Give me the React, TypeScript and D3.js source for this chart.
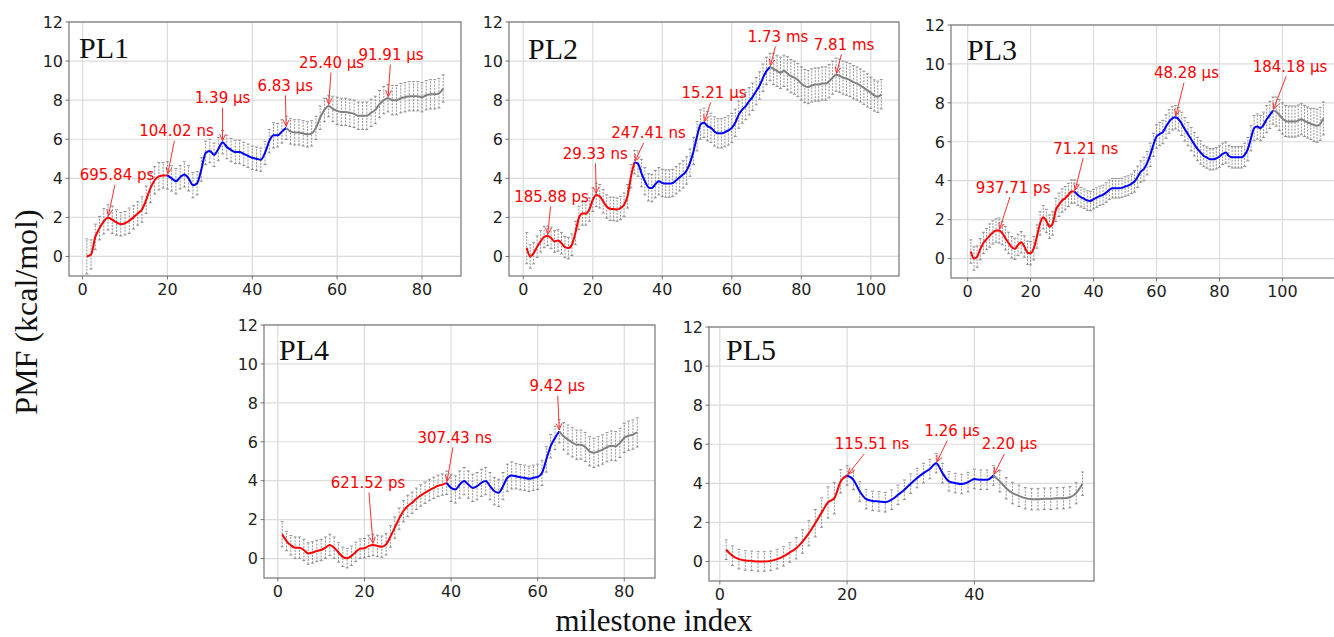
import React from 'react';
import * as d3 from 'd3';

// ---------------- DATA ----------------
const PL1_PMF = [0.0,0.1,1.0,1.45,1.8,2.0,1.88,1.74,1.65,1.7,1.83,2.0,2.2,2.4,2.9,3.5,3.9,4.1,4.15,4.15,
  4.0,3.85,4.05,4.2,4.0,3.65,3.75,4.45,5.3,5.4,5.2,5.5,5.85,5.6,5.45,5.35,5.35,5.25,5.15,5.05,
  5.0,4.95,5.3,5.9,6.2,6.2,6.4,6.58,6.4,6.35,6.35,6.3,6.25,6.3,6.58,7.1,7.5,7.7,7.55,7.45,
  7.4,7.4,7.35,7.3,7.2,7.2,7.2,7.35,7.5,7.8,8.0,8.1,8.0,8.0,8.1,8.15,8.2,8.2,8.2,8.15,
  8.25,8.3,8.3,8.35,8.6];
const PL1_ERR = [0.9,0.75,0.65,0.6,0.65,0.65,0.7,0.65,0.6,0.6,0.65,0.6,0.6,0.65,0.7,0.75,0.7,0.7,0.65,0.7,
  0.65,0.65,0.6,0.65,0.65,0.65,0.6,0.6,0.6,0.6,0.6,0.6,0.6,0.6,0.6,0.6,0.6,0.6,0.6,0.6,
  0.6,0.6,0.6,0.6,0.65,0.6,0.6,0.6,0.65,0.65,0.65,0.65,0.65,0.65,0.6,0.6,0.6,0.55,0.65,0.7,
  0.7,0.7,0.7,0.7,0.7,0.7,0.7,0.7,0.7,0.7,0.7,0.7,0.75,0.75,0.75,0.75,0.75,0.75,0.75,0.75,
  0.75,0.75,0.75,0.75,0.7];
const PL1_BREAKS = [20, 48];
const PL1_ANN_IDX = [6, 20, 33, 48, 58, 72];
const PL1_ANN_TEXT = ['695.84 ps', '104.02 ns', '1.39 \u00b5s', '6.83 \u00b5s', '25.40 \u00b5s', '91.91 \u00b5s'];
const PL1_XTICKS = [0, 20, 40, 60, 80];

const PL2_PMF = [0.43,0.0,0.17,0.5,0.77,1.0,1.05,0.95,0.77,0.82,0.68,0.48,0.43,0.6,1.2,1.97,2.2,2.2,2.4,2.9,
  3.15,3.08,2.82,2.56,2.44,2.43,2.4,2.48,2.65,3.08,4.1,4.82,4.75,4.27,3.85,3.54,3.5,3.7,3.85,3.76,
  3.73,3.73,3.76,3.9,4.05,4.2,4.4,4.8,5.4,6.15,6.75,6.84,6.67,6.58,6.4,6.3,6.3,6.36,6.45,6.58,
  6.84,7.26,7.52,7.7,7.95,8.17,8.46,8.75,9.15,9.5,9.7,9.6,9.5,9.4,9.5,9.37,9.23,9.15,9.03,8.85,
  8.72,8.67,8.75,8.8,8.8,8.85,8.85,8.97,9.15,9.3,9.25,9.15,9.1,9.03,8.92,8.85,8.75,8.63,8.5,8.38,
  8.24,8.17,8.3];
const PL2_ERR = [0.8,0.6,0.55,0.55,0.55,0.55,0.5,0.55,0.55,0.55,0.55,0.55,0.55,0.55,0.6,0.6,0.6,0.6,0.6,0.6,
  0.6,0.6,0.6,0.6,0.6,0.6,0.6,0.6,0.6,0.6,0.6,0.6,0.65,0.7,0.7,0.7,0.7,0.7,0.7,0.7,
  0.7,0.7,0.7,0.7,0.7,0.7,0.7,0.7,0.7,0.75,0.75,0.75,0.75,0.75,0.75,0.75,0.75,0.75,0.75,0.75,
  0.7,0.7,0.7,0.7,0.7,0.7,0.7,0.7,0.7,0.7,0.7,0.8,0.8,0.8,0.8,0.85,0.85,0.85,0.85,0.85,
  0.85,0.85,0.85,0.85,0.85,0.85,0.85,0.85,0.85,0.85,0.85,0.85,0.85,0.85,0.85,0.85,0.85,0.85,0.85,0.8,
  0.8,0.8,0.75];
const PL2_BREAKS = [32, 71];
const PL2_ANN_IDX = [7, 21, 32, 52, 71, 90];
const PL2_ANN_TEXT = ['185.88 ps', '29.33 ns', '247.41 ns', '15.21 \u00b5s', '1.73 ms', '7.81 ms'];
const PL2_XTICKS = [0, 20, 40, 60, 80, 100];

const PL3_PMF = [0.36,0.0,0.1,0.48,0.8,1.0,1.18,1.34,1.44,1.44,1.3,1.04,0.8,0.58,0.5,0.7,0.84,0.62,0.3,0.27,
  0.53,1.13,1.8,2.12,1.93,1.64,1.8,2.5,2.76,2.98,3.1,3.27,3.44,3.44,3.27,3.15,3.07,2.98,2.96,3.05,
  3.13,3.22,3.27,3.39,3.53,3.61,3.61,3.61,3.63,3.7,3.75,3.84,3.96,4.2,4.47,4.6,4.9,5.33,5.84,6.27,
  6.4,6.5,6.78,7.04,7.2,7.26,7.16,6.92,6.64,6.39,6.13,5.87,5.63,5.45,5.27,5.19,5.1,5.1,5.15,5.24,
  5.38,5.45,5.27,5.2,5.2,5.2,5.2,5.33,5.62,6.18,6.7,6.78,6.7,6.87,7.16,7.38,7.6,7.55,7.38,7.2,
  7.07,7.04,7.04,7.04,7.09,7.16,7.07,6.99,6.92,6.87,6.82,6.92,7.2];
const PL3_ERR = [0.6,0.6,0.55,0.55,0.55,0.55,0.6,0.6,0.6,0.65,0.6,0.6,0.55,0.55,0.55,0.55,0.55,0.55,0.6,0.6,
  0.6,0.6,0.6,0.6,0.6,0.6,0.6,0.6,0.6,0.6,0.6,0.6,0.6,0.6,0.55,0.5,0.5,0.5,0.5,0.5,
  0.5,0.5,0.5,0.5,0.5,0.5,0.5,0.5,0.5,0.5,0.5,0.5,0.55,0.55,0.55,0.6,0.6,0.6,0.6,0.6,
  0.6,0.6,0.6,0.6,0.6,0.6,0.6,0.6,0.6,0.6,0.6,0.6,0.6,0.6,0.55,0.55,0.55,0.55,0.55,0.55,
  0.55,0.55,0.55,0.55,0.55,0.55,0.55,0.6,0.6,0.65,0.65,0.65,0.65,0.65,0.7,0.7,0.7,0.75,0.8,0.8,
  0.8,0.8,0.8,0.8,0.8,0.8,0.8,0.8,0.8,0.85,0.85,0.85,0.85];
const PL3_BREAKS = [34, 97];
const PL3_ANN_IDX = [10, 34, 66, 97];
const PL3_ANN_TEXT = ['937.71 ps', '71.21 ns', '48.28 \u00b5s', '184.18 \u00b5s'];
const PL3_XTICKS = [0, 20, 40, 60, 80, 100];

const PL4_PMF = [1.25,0.9,0.68,0.56,0.56,0.44,0.26,0.31,0.39,0.44,0.56,0.7,0.56,0.31,0.09,0.02,0.14,0.34,0.51,0.53,
  0.65,0.7,0.65,0.61,0.73,1.13,1.59,2.05,2.44,2.7,2.87,3.07,3.24,3.38,3.52,3.63,3.74,3.8,3.89,3.63,
  3.55,3.8,3.98,3.8,3.63,3.72,3.89,3.98,3.72,3.46,3.38,3.72,4.15,4.27,4.23,4.18,4.15,4.1,4.15,4.2,
  4.4,5.09,5.77,6.2,6.54,6.28,6.11,5.97,5.85,5.85,5.73,5.51,5.43,5.51,5.6,5.72,5.8,5.77,5.94,6.2,
  6.31,6.37,6.48];
const PL4_ERR = [0.65,0.5,0.5,0.55,0.55,0.55,0.55,0.55,0.55,0.55,0.55,0.55,0.55,0.5,0.5,0.5,0.5,0.5,0.5,0.5,
  0.55,0.55,0.55,0.55,0.55,0.55,0.55,0.55,0.55,0.55,0.55,0.55,0.55,0.55,0.55,0.55,0.55,0.55,0.6,0.7,
  0.7,0.7,0.7,0.7,0.7,0.7,0.7,0.7,0.7,0.7,0.7,0.7,0.7,0.7,0.65,0.65,0.65,0.65,0.65,0.65,
  0.65,0.65,0.6,0.6,0.6,0.7,0.75,0.75,0.75,0.75,0.75,0.75,0.75,0.75,0.75,0.75,0.75,0.75,0.75,0.75,
  0.75,0.75,0.75];
const PL4_BREAKS = [39, 65];
const PL4_ANN_IDX = [22, 39, 65];
const PL4_ANN_TEXT = ['621.52 ps', '307.43 ns', '9.42 \u00b5s'];
const PL4_XTICKS = [0, 20, 40, 60, 80];

const PL5_PMF = [0.6,0.29,0.12,0.05,0.03,0.0,0.0,0.03,0.12,0.26,0.46,0.68,1.02,1.45,1.96,2.5,3.02,3.24,4.1,4.4,
  4.18,3.58,3.19,3.1,3.07,3.03,3.16,3.41,3.67,3.98,4.27,4.52,4.73,5.03,4.52,4.1,4.01,3.96,4.06,4.22,
  4.18,4.18,4.4,4.1,3.75,3.5,3.36,3.24,3.19,3.19,3.21,3.21,3.24,3.24,3.29,3.5,3.98];
const PL5_ERR = [0.5,0.5,0.5,0.5,0.5,0.5,0.5,0.5,0.5,0.5,0.5,0.55,0.6,0.65,0.7,0.75,0.8,0.8,0.6,0.5,
  0.5,0.5,0.5,0.5,0.5,0.5,0.5,0.5,0.5,0.5,0.5,0.5,0.5,0.5,0.5,0.5,0.5,0.5,0.5,0.5,
  0.5,0.5,0.5,0.55,0.55,0.55,0.55,0.55,0.55,0.55,0.55,0.55,0.55,0.55,0.55,0.55,0.6];
const PL5_BREAKS = [20, 43];
const PL5_ANN_IDX = [20, 34, 43];
const PL5_ANN_TEXT = ['115.51 ns', '1.26 \u00b5s', '2.20 \u00b5s'];
const PL5_XTICKS = [0, 20, 40];

const Y_TICKS = [0, 2, 4, 6, 8, 10, 12];
const Y_DOMAIN = [-1, 12];
const X_LABEL = 'milestone index';
const Y_LABEL = 'PMF (kcal/mol)';

// ---------------- LAYOUT ----------------
const PANELS = [
  { name: 'PL1', pmf: PL1_PMF, err: PL1_ERR, breaks: PL1_BREAKS, annIdx: PL1_ANN_IDX, annText: PL1_ANN_TEXT, xTicks: PL1_XTICKS,
    left: 69, top: 22, width: 392, height: 254, xDomain: [-3.2, 89.2], titleOff: [10, 36],
    annOff: [[9, -37], [9, -39], [0, -39], [-1, -37], [3, -38], [3, -38]] },
  { name: 'PL2', pmf: PL2_PMF, err: PL2_ERR, breaks: PL2_BREAKS, annIdx: PL2_ANN_IDX, annText: PL2_ANN_TEXT, xTicks: PL2_XTICKS,
    left: 509, top: 22, width: 390, height: 254, xDomain: [-4.1, 108.1], titleOff: [19, 37],
    annOff: [[4, -34], [-1, -36], [14, -24], [10, -25], [8, -25], [8, -25]] },
  { name: 'PL3', pmf: PL3_PMF, err: PL3_ERR, breaks: PL3_BREAKS, annIdx: PL3_ANN_IDX, annText: PL3_ANN_TEXT, xTicks: PL3_XTICKS,
    left: 951, top: 25, width: 390, height: 253, xDomain: [-5.3, 118.6], titleOff: [16, 35],
    annOff: [[14, -38], [11, -38], [11, -39], [17, -39]] },
  { name: 'PL4', pmf: PL4_PMF, err: PL4_ERR, breaks: PL4_BREAKS, annIdx: PL4_ANN_IDX, annText: PL4_ANN_TEXT, xTicks: PL4_XTICKS,
    left: 264, top: 325, width: 391, height: 253, xDomain: [-3.2, 87.1], titleOff: [15, 35],
    annOff: [[-5, -57], [8, -40], [-2, -40]] },
  { name: 'PL5', pmf: PL5_PMF, err: PL5_ERR, breaks: PL5_BREAKS, annIdx: PL5_ANN_IDX, annText: PL5_ANN_TEXT, xTicks: PL5_XTICKS,
    left: 709, top: 327, width: 385, height: 254, xDomain: [-1.7, 58.8], titleOff: [17, 33],
    annOff: [[25, -26], [16, -27], [16, -26]] },
];

const SEG_COLORS = ['#ff0000', '#0000ff', '#808080'];
const SANS = 'DejaVu Sans, sans-serif';
const SERIF = 'Liberation Serif, Times New Roman, serif';

function Panel({ p }: { p: any }) {
  const x = d3.scaleLinear().domain(p.xDomain).range([p.left, p.left + p.width]);
  const y = d3.scaleLinear().domain(Y_DOMAIN).range([p.top + p.height, p.top]);
  const pts = p.pmf.map((v: number, i: number) => ({ i: i + 1, v, e: p.err[i] }));
  const n = pts.length;
  const bounds = [1, p.breaks[0], p.breaks[1], n];
  const line = d3.line<any>().x(d => x(d.i)).y(d => y(d.v)).curve(d3.curveMonotoneX);
  const clipId = 'clip-' + p.name;
  const bottom = p.top + p.height;
  return (
    <g>
      <defs>
        <clipPath id={clipId}>
          <rect x={p.left} y={p.top} width={p.width} height={p.height} />
        </clipPath>
      </defs>
      <rect x={p.left} y={p.top} width={p.width} height={p.height} fill="#fff" />
      {Y_TICKS.map(t => (
        <line key={'gy' + t} x1={p.left} x2={p.left + p.width} y1={y(t)} y2={y(t)} stroke="#dcdcdc" strokeWidth={1.2} />
      ))}
      {p.xTicks.map((t: number) => (
        <line key={'gx' + t} x1={x(t)} x2={x(t)} y1={p.top} y2={bottom} stroke="#dcdcdc" strokeWidth={1.2} />
      ))}
      <g clipPath={`url(#${clipId})`}>
        {pts.map((d: any) => (
          <g key={'e' + d.i} stroke="#7a7a7a" strokeWidth={0.8}>
            <line x1={x(d.i)} x2={x(d.i)} y1={y(d.v - d.e)} y2={y(d.v + d.e)} strokeDasharray="2,1.2" />
            <line x1={x(d.i) - 1.5} x2={x(d.i) + 1.5} y1={y(d.v - d.e)} y2={y(d.v - d.e)} />
            <line x1={x(d.i) - 1.5} x2={x(d.i) + 1.5} y1={y(d.v + d.e)} y2={y(d.v + d.e)} />
          </g>
        ))}
        {[0, 1, 2].map(s => (
          <path key={'s' + s} d={line(pts.slice(bounds[s] - 1, bounds[s + 1])) || ''} fill="none"
            stroke={SEG_COLORS[s]} strokeWidth={2} strokeLinejoin="round" />
        ))}
      </g>
      <rect x={p.left} y={p.top} width={p.width} height={p.height} fill="none" stroke="#808080" strokeWidth={1.3} />
      {Y_TICKS.map(t => (
        <g key={'ty' + t}>
          <line x1={p.left - 3.5} x2={p.left} y1={y(t)} y2={y(t)} stroke="#555" strokeWidth={0.8} />
          <text x={p.left - 6} y={y(t)} dy="0.36em" textAnchor="end" fontFamily={SANS} fontSize={16} fill="#222">{t}</text>
        </g>
      ))}
      {p.xTicks.map((t: number) => (
        <g key={'tx' + t}>
          <line x1={x(t)} x2={x(t)} y1={bottom} y2={bottom + 3.5} stroke="#555" strokeWidth={0.8} />
          <text x={x(t)} y={bottom + 19} textAnchor="middle" fontFamily={SANS} fontSize={16} fill="#222">{t}</text>
        </g>
      ))}
      <text x={p.left + p.titleOff[0]} y={p.top + p.titleOff[1]} fontFamily={SERIF} fontSize={30} fill="#111">{p.name}</text>
      {p.annIdx.map((idx: number, k: number) => {
        const d = pts[idx - 1];
        const px = x(d.i), py = y(d.v);
        const tx = px + p.annOff[k][0];
        const by = py + p.annOff[k][1];
        const cy = by - 5.5;
        const t0 = Math.min(0.9, 10 / (py - cy));
        const sx = tx + (px - tx) * t0, sy = cy + (py - cy) * t0;
        const len = Math.hypot(px - sx, py - sy);
        const ux = (px - sx) / len, uy = (py - sy) / len;
        const ex = px - ux * 1.5, ey = py - uy * 1.5;
        const hl = 7, ang = 0.42;
        const h1x = ex - hl * (ux * Math.cos(ang) - uy * Math.sin(ang));
        const h1y = ey - hl * (uy * Math.cos(ang) + ux * Math.sin(ang));
        const h2x = ex - hl * (ux * Math.cos(-ang) - uy * Math.sin(-ang));
        const h2y = ey - hl * (uy * Math.cos(-ang) + ux * Math.sin(-ang));
        return (
          <g key={'a' + k}>
            <text x={tx} y={by} textAnchor="middle" fontFamily={SANS} fontSize={15} fill="#ff0000">{p.annText[k]}</text>
            <line x1={sx} y1={sy} x2={ex} y2={ey} stroke="#ff3030" strokeWidth={1} />
            <polyline points={`${h1x},${h1y} ${ex},${ey} ${h2x},${h2y}`} fill="none" stroke="#ff3030" strokeWidth={1} />
          </g>
        );
      })}
    </g>
  );
}

export default function App() {
  return (
    <svg width={1334} height={637} viewBox="0 0 1334 637"
      style={{ position: 'absolute', left: 0, top: 0, background: '#fff' }}>
      <rect x={0} y={0} width={1334} height={637} fill="#fff" />
      {PANELS.map(p => <Panel key={p.name} p={p} />)}
      <text x={654} y={630.5} textAnchor="middle" fontFamily={SERIF} fontSize={31} fill="#111">{X_LABEL}</text>
      <text transform="translate(37,312) rotate(-90)" textAnchor="middle" fontFamily={SERIF} fontSize={32} fill="#111">{Y_LABEL}</text>
    </svg>
  );
}
